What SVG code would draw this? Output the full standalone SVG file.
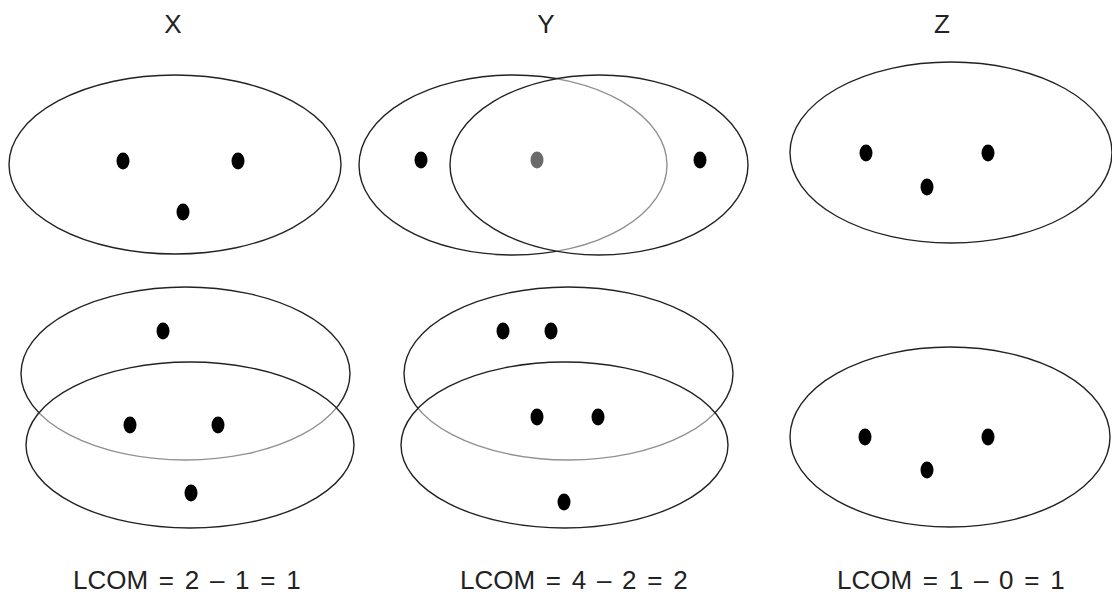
<svg xmlns="http://www.w3.org/2000/svg" width="1112" height="596" viewBox="0 0 1112 596">
<style>
.set{fill:none;stroke:#222;stroke-width:1.4}
.over{fill:#fff;fill-opacity:0.5;stroke:#222;stroke-width:1.4}
.dot{fill:#000}
.gdot{fill:#6a6a6a}
.title{font-family:"Liberation Sans",Arial,sans-serif;font-size:26px;fill:#222;text-anchor:middle}
.lcom{font-family:"Liberation Sans",Arial,sans-serif;font-size:26px;fill:#222;word-spacing:3.5px}
</style>
<rect width="1112" height="596" fill="#fff"/>
<g id="titles">
<text class="title" x="173" y="33">X</text>
<text class="title" x="546" y="33">Y</text>
<text class="title" x="942" y="33">Z</text>
</g>
<g id="X-top">
<ellipse class="set" cx="175" cy="164.5" rx="166" ry="89.5"/>
<ellipse class="dot" cx="123" cy="161" rx="6.5" ry="8.5"/>
<ellipse class="dot" cx="238" cy="161" rx="6.5" ry="8.5"/>
<ellipse class="dot" cx="183" cy="212" rx="6.5" ry="8.5"/>
</g>
<g id="Y-top">
<ellipse class="set" cx="513" cy="165" rx="154" ry="90"/>
<ellipse class="over" cx="599" cy="165" rx="149" ry="90"/>
<ellipse class="gdot" cx="537" cy="160" rx="6.5" ry="8.5"/>
<ellipse class="dot" cx="421" cy="160" rx="6.5" ry="8.5"/>
<ellipse class="dot" cx="700" cy="160" rx="6.5" ry="8.5"/>
</g>
<g id="Z-top">
<ellipse class="set" cx="951" cy="152.5" rx="161" ry="90.5"/>
<ellipse class="dot" cx="866" cy="153" rx="6.5" ry="8.5"/>
<ellipse class="dot" cx="988" cy="153" rx="6.5" ry="8.5"/>
<ellipse class="dot" cx="927" cy="187" rx="6.5" ry="8.5"/>
</g>
<g id="X-bottom">
<ellipse class="set" cx="185.5" cy="373.5" rx="164.5" ry="86.5"/>
<ellipse class="over" cx="190" cy="445" rx="164" ry="83"/>
<ellipse class="dot" cx="163" cy="331" rx="6.5" ry="8.5"/>
<ellipse class="dot" cx="130" cy="425" rx="6.5" ry="8.5"/>
<ellipse class="dot" cx="218" cy="425" rx="6.5" ry="8.5"/>
<ellipse class="dot" cx="191" cy="493" rx="6.5" ry="8.5"/>
</g>
<g id="Y-bottom">
<ellipse class="set" cx="568.5" cy="373.5" rx="164.5" ry="86.5"/>
<ellipse class="over" cx="564.5" cy="445" rx="163.5" ry="83"/>
<ellipse class="dot" cx="503" cy="331" rx="6.5" ry="8.5"/>
<ellipse class="dot" cx="551" cy="331" rx="6.5" ry="8.5"/>
<ellipse class="dot" cx="537" cy="417" rx="6.5" ry="8.5"/>
<ellipse class="dot" cx="598" cy="417" rx="6.5" ry="8.5"/>
<ellipse class="dot" cx="564" cy="502" rx="6.5" ry="8.5"/>
</g>
<g id="Z-bottom">
<ellipse class="set" cx="950" cy="437" rx="160" ry="90"/>
<ellipse class="dot" cx="865" cy="437" rx="6.5" ry="8.5"/>
<ellipse class="dot" cx="988" cy="437" rx="6.5" ry="8.5"/>
<ellipse class="dot" cx="927" cy="470" rx="6.5" ry="8.5"/>
</g>
<g id="connectors"></g>
<g id="labels">
<text class="lcom" x="73" y="589">LCOM = 2 – 1 = 1</text>
<text class="lcom" x="460" y="589">LCOM = 4 – 2 = 2</text>
<text class="lcom" x="837" y="589">LCOM = 1 – 0 = 1</text>
</g>
</svg>
